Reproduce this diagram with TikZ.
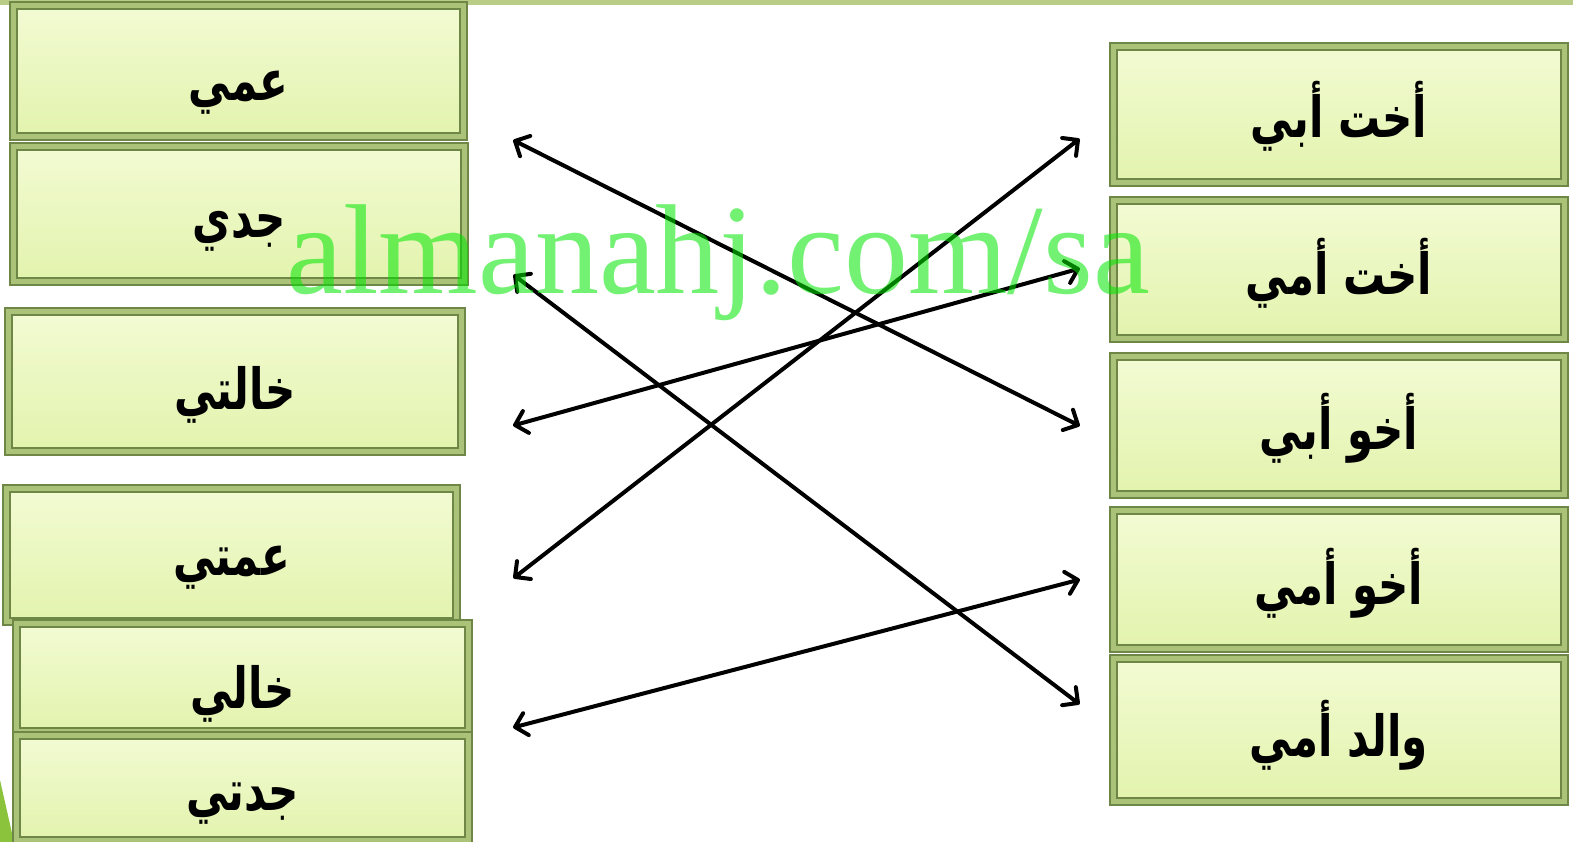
\documentclass[tikz,border=0pt]{standalone}
\usepackage{fontspec}
\usetikzlibrary{calc}
\TeXXeTstate=1
\newfontfamily\arabicfont[Script=Arabic]{DejaVu Sans}
\newfontfamily\wmfont{Liberation Serif}
\definecolor{boxdark}{RGB}{110,135,70}
\definecolor{boxring}{RGB}{170,195,120}
\definecolor{innertop}{RGB}{243,251,212}
\definecolor{innerbot}{RGB}{226,243,172}
\definecolor{topline}{RGB}{185,205,135}
\definecolor{leaf}{RGB}{140,195,60}
\definecolor{wm}{RGB}{0,230,0}
\tikzset{
  wordbox/.style={draw=boxdark, line width=1.5pt, fill=boxring, inner sep=0pt,
    font=\arabicfont\bfseries\fontsize{42}{46}\selectfont,
    path picture={
      \shade[top color=innertop, bottom color=innerbot]
        ($(path picture bounding box.south west)+(7pt,7pt)$) rectangle
        ($(path picture bounding box.north east)+(-7pt,-7pt)$);
      \draw[boxdark, line width=1.2pt]
        ($(path picture bounding box.south west)+(7pt,7pt)$) rectangle
        ($(path picture bounding box.north east)+(-7pt,-7pt)$);
    }},
  link/.style={line width=4pt, black, line cap=round, line join=round},
  watermark/.style={text=wm, text opacity=0.55, font=\wmfont\fontsize{128}{130}\selectfont, inner sep=0pt, anchor=base west}
}
\newcommand{\ar}[2][0pt]{\raisebox{-#1}[\height][\depth]{\scalebox{1}[1.35]{\beginR #2\endR}}}
\newcommand{\biarrow}[2]{%
  \draw[link] ($(#1)!16pt!45:(#2)$) -- (#1) -- ($(#1)!16pt!-45:(#2)$)
    (#1) -- (#2)
    ($(#2)!16pt!45:(#1)$) -- (#2) -- ($(#2)!16pt!-45:(#1)$);}
\begin{document}
\begin{tikzpicture}[x=1pt,y=-1pt]
\useasboundingbox (0,0) rectangle (1573,842);
\fill[white] (0,0) rectangle (1573,842);
\fill[topline] (0,0) rectangle (1573,5);
\fill[leaf] (0,780) -- (14,842) -- (0,842) -- cycle;
% left column
\node[wordbox, minimum width=457pt, minimum height=138pt] (l1) at (238.5,71) {\ar[22pt]{عمي}};
\node[wordbox, minimum width=458pt, minimum height=142pt] (l2) at (239,214) {\ar[17pt]{جدي}};
\node[wordbox, minimum width=460pt, minimum height=147pt] (l3) at (235,381.5) {\ar[13pt]{خالتي}};
\node[wordbox, minimum width=457pt, minimum height=140pt] (l4) at (231.5,555) {\ar[13pt]{عمتي}};
\node[wordbox, minimum width=459pt, minimum height=115pt] (l5) at (242.5,677.5) {\ar[16pt]{خالي}};
\node[wordbox, minimum width=459pt, minimum height=112pt] (l6) at (242.5,788) {\ar[16pt]{جدتي}};
% right column
\node[wordbox, minimum width=458pt, minimum height=143pt] (r1) at (1339,114.5) {\ar[2pt]{أخت أبي}};
\node[wordbox, minimum width=458pt, minimum height=145pt] (r2) at (1339,269.5) {\ar[4pt]{أخت أمي}};
\node[wordbox, minimum width=458pt, minimum height=145pt] (r3) at (1339,425.5) {\ar[3pt]{أخو أبي}};
\node[wordbox, minimum width=458pt, minimum height=145pt] (r4) at (1339,579.5) {\ar[4pt]{أخو أمي}};
\node[wordbox, minimum width=458pt, minimum height=150pt] (r5) at (1339,730) {\ar[5pt]{والد أمي}};
% arrow ends
\coordinate (a1) at (515,141);  \coordinate (b1) at (1078,425);
\coordinate (a2) at (515,276);  \coordinate (b2) at (1078,703);
\coordinate (a3) at (515,425);  \coordinate (b3) at (1078,269);
\coordinate (a4) at (515,577);  \coordinate (b4) at (1078,140);
\coordinate (a5) at (515,727);  \coordinate (b5) at (1078,580);
\biarrow{a1}{b1}
\biarrow{a2}{b2}
\biarrow{a3}{b3}
\biarrow{a4}{b4}
\biarrow{a5}{b5}
% watermark
\node[watermark] (wm) at (286,293) {almanahj.com/sa};
\end{tikzpicture}
\end{document}
